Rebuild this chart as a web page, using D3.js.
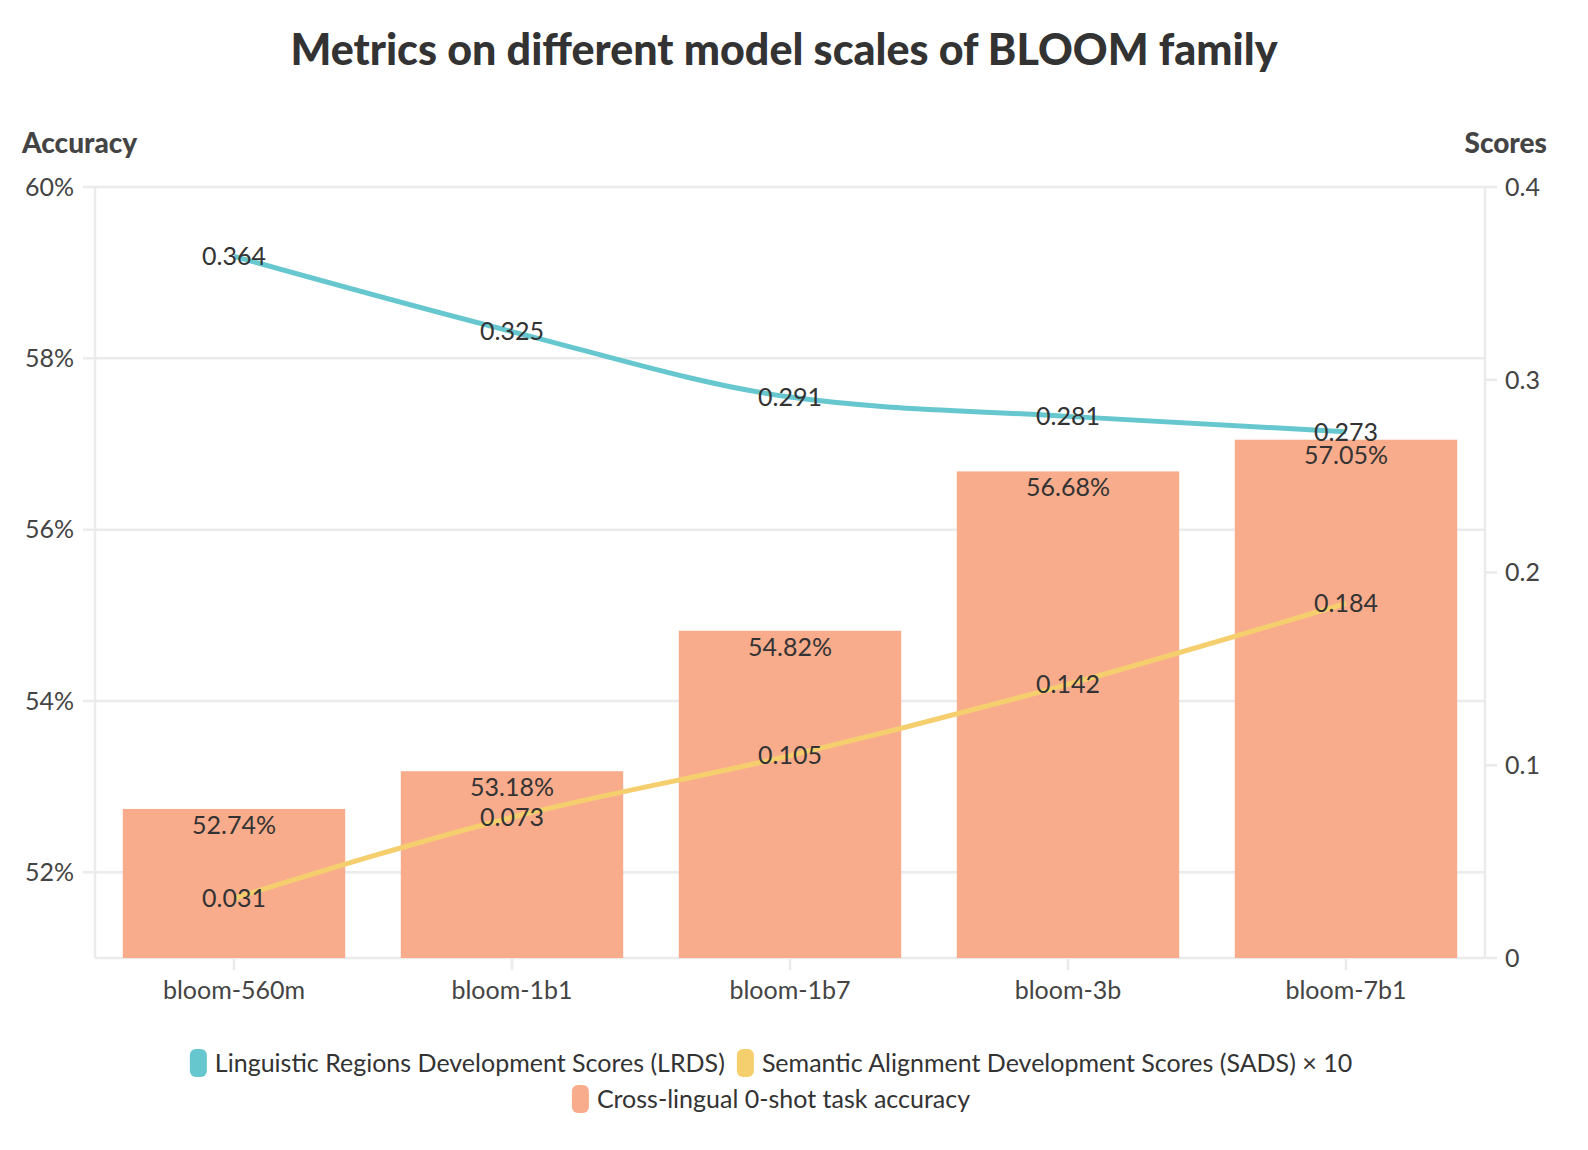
<!DOCTYPE html>
<html lang="en">
<head>
  <meta charset="UTF-8">
  <script src="https://cdn.jsdelivr.net/npm/d3@7"></script>
  <title>BLOOM metrics</title>
  <style>
    html, body { margin: 0; background: #fff; overflow: hidden; }
    svg { display: block; }
    text { font-family: Lato, "Noto Sans", sans-serif; }
  </style>
</head>
<body>
<div id="chart"></div>
<script>
// data
var models = ["bloom-560m", "bloom-1b1", "bloom-1b7", "bloom-3b", "bloom-7b1"];
var accuracy = [52.74, 53.18, 54.82, 56.68, 57.05];
var lrds = [0.364, 0.325, 0.291, 0.281, 0.273];
var sads = [0.031, 0.073, 0.105, 0.142, 0.184];
var leftTicks = [52, 54, 56, 58, 60];
var rightTicks = [0, 0.1, 0.2, 0.3, 0.4];
var legendNames = [
  "Linguistic Regions Development Scores (LRDS)",
  "Semantic Alignment Development Scores (SADS) × 10",
  "Cross-lingual 0-shot task accuracy"
];

var W = 1588, H = 1150;
var pLeft = 95, pRight = 1485, pTop = 187, pBottom = 958;
var teal = "#67c7cf", yellow = "#f5cf6e", salmon = "#f8ac8c";
var ink = "#333";
var gridCol = "#ebebeb";
var fs = 25;

const svg = d3.select("#chart").append("svg")
  .attr("width", W).attr("height", H);

var x = d3.scaleBand().domain(models).range([pLeft, pRight]).paddingInner(0.2).paddingOuter(0.1);
var yL = d3.scaleLinear().domain([51, 60]).range([pBottom, pTop]);
var yR = d3.scaleLinear().domain([0, 0.4]).range([pBottom, pTop]);
var cx = d => x(d) + x.bandwidth() / 2;

// title
svg.append("text").attr("x", 784).attr("y", 65).attr("text-anchor", "middle")
  .attr("font-size", 43).attr("font-weight", 900).attr("fill", ink)
  .text("Metrics on different model scales of BLOOM family");
svg.append("text").attr("x", 22).attr("y", 153)
  .attr("font-size", 28).attr("font-weight", 900).attr("fill", "#444").text("Accuracy");
svg.append("text").attr("x", 1547).attr("y", 153).attr("text-anchor", "end")
  .attr("font-size", 28).attr("font-weight", 900).attr("fill", "#444").text("Scores");

// grid
svg.append("g").selectAll("line").data(leftTicks).enter().append("line")
  .attr("x1", pLeft - 12).attr("x2", pRight)
  .attr("y1", d => yL(d)).attr("y2", d => yL(d))
  .attr("stroke", gridCol).attr("stroke-width", 2.5);
// frame lines
svg.append("line").attr("x1", pLeft).attr("x2", pLeft).attr("y1", pTop).attr("y2", pBottom)
  .attr("stroke", gridCol).attr("stroke-width", 2.5);
svg.append("line").attr("x1", pRight).attr("x2", pRight).attr("y1", pTop).attr("y2", pBottom)
  .attr("stroke", gridCol).attr("stroke-width", 2.5);
svg.append("line").attr("x1", pLeft).attr("x2", pRight).attr("y1", pBottom).attr("y2", pBottom)
  .attr("stroke", gridCol).attr("stroke-width", 2.5);
svg.append("g").selectAll("line").data(rightTicks).enter().append("line")
  .attr("x1", pRight).attr("x2", pRight + 12)
  .attr("y1", d => yR(d)).attr("y2", d => yR(d))
  .attr("stroke", gridCol).attr("stroke-width", 2.5);
svg.append("g").selectAll("line").data(models).enter().append("line")
  .attr("x1", cx).attr("x2", cx)
  .attr("y1", pBottom).attr("y2", pBottom + 12)
  .attr("stroke", gridCol).attr("stroke-width", 2.5);

// tick labels
svg.append("g").selectAll("text").data(leftTicks).enter().append("text")
  .attr("x", pLeft - 21).attr("y", d => yL(d)).attr("dy", "0.35em").attr("text-anchor", "end")
  .attr("font-size", fs).attr("fill", "#444").text(d => d + "%");
svg.append("g").selectAll("text").data(rightTicks).enter().append("text")
  .attr("x", pRight + 20).attr("y", d => yR(d)).attr("dy", "0.35em")
  .attr("font-size", fs).attr("fill", "#444").text(d => d3.format("")(d));
svg.append("g").selectAll("text").data(models).enter().append("text")
  .attr("x", cx).attr("y", pBottom + 41).attr("text-anchor", "middle")
  .attr("font-size", fs).attr("fill", "#444").text(d => d);

// bars
svg.append("g").selectAll("rect").data(accuracy).enter().append("rect")
  .attr("x", (d, i) => x(models[i])).attr("width", x.bandwidth())
  .attr("y", d => yL(d)).attr("height", d => pBottom - yL(d))
  .attr("fill", salmon);

// lines
var line = d3.line().x((d, i) => cx(models[i])).y(d => yR(d)).curve(d3.curveMonotoneX);
svg.append("path").attr("d", line(lrds)).attr("fill", "none").attr("stroke", teal).attr("stroke-width", 5);
svg.append("path").attr("d", line(sads)).attr("fill", "none").attr("stroke", yellow).attr("stroke-width", 5);

// labels
svg.append("g").selectAll("text").data(accuracy).enter().append("text")
  .attr("x", (d, i) => cx(models[i])).attr("y", d => yL(d) + 16).attr("dy", "0.35em")
  .attr("text-anchor", "middle").attr("font-size", fs).attr("fill", ink)
  .text(d => d.toFixed(2) + "%");
[lrds, sads].forEach(s => {
  svg.append("g").selectAll("text").data(s).enter().append("text")
    .attr("x", (d, i) => cx(models[i])).attr("y", d => yR(d)).attr("dy", "0.35em")
    .attr("text-anchor", "middle").attr("font-size", fs).attr("fill", ink)
    .text(d => d.toFixed(3));
});

// legend
var legColors = [teal, yellow, salmon];
function legendRow(items, cy) {
  var g = svg.append("g");
  var xs = 0;
  items.forEach(it => {
    var item = g.append("g").attr("transform", "translate(" + xs + ",0)");
    item.append("rect").attr("x", 0).attr("y", -14).attr("width", 17).attr("height", 28).attr("rx", 6)
      .attr("fill", legColors[it]);
    var t = item.append("text").attr("x", 25).attr("y", 0).attr("dy", "0.35em")
      .attr("font-size", fs).attr("fill", ink).text(legendNames[it]);
    xs += 25 + t.node().getComputedTextLength() + 12;
  });
  var w = xs - 12;
  g.attr("transform", "translate(" + (W / 2 - w / 2 - 23) + "," + cy + ")");
}
legendRow([0, 1], 1063);
legendRow([2], 1099);
</script>
</body>
</html>
